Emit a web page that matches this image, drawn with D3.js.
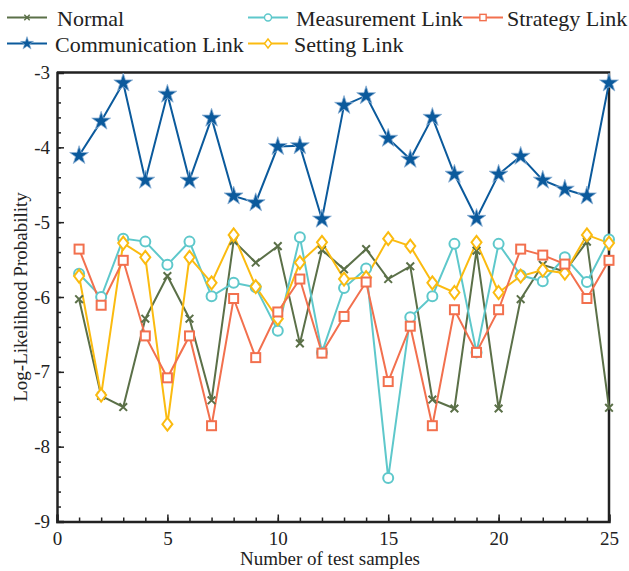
<!DOCTYPE html>
<html>
<head>
<meta charset="utf-8">
<script src="https://cdn.jsdelivr.net/npm/d3@7"></script>
<style>
  body { margin: 0; background: #fff; }
  svg text { font-family: "Liberation Serif", "Times New Roman", serif; fill: #222; }
</style>
</head>
<body>
<div id="chart"></div>
<script>
// test sample index 1..25
const samples = d3.range(1, 26);

const normal = [-6.03, -7.32, -7.47, -6.29, -5.72, -6.29, -7.38, -5.25, -5.54, -5.32,
  -6.62, -5.37, -5.63, -5.36, -5.76, -5.59, -7.37, -7.49, -5.38, -7.49,
  -6.03, -5.57, -5.66, -5.26, -7.48];
const communication = [-4.11, -3.65, -3.14, -4.44, -3.29, -4.44, -3.61, -4.65, -4.74, -3.99,
  -3.98, -4.96, -3.44, -3.31, -3.88, -4.16, -3.60, -4.36, -4.95, -4.36,
  -4.12, -4.44, -4.56, -4.65, -3.14];
const measurement = [-5.69, -6.00, -5.22, -5.26, -5.57, -5.26, -5.99, -5.81, -5.87, -6.45,
  -5.20, -6.74, -5.88, -5.62, -8.42, -6.27, -5.99, -5.29, -6.74, -5.29,
  -5.71, -5.79, -5.47, -5.80, -5.23];
const strategy = [-5.36, -6.11, -5.51, -6.52, -7.08, -6.52, -7.72, -6.02, -6.81, -6.20,
  -5.76, -6.75, -6.26, -5.80, -7.13, -6.39, -7.72, -6.17, -6.74, -6.17,
  -5.36, -5.44, -5.56, -6.02, -5.51];
const setting = [-5.72, -7.31, -5.28, -5.47, -7.70, -5.47, -5.81, -5.17, -5.86, -6.29,
  -5.54, -5.27, -5.76, -5.74, -5.22, -5.32, -5.81, -5.94, -5.27, -5.94,
  -5.72, -5.64, -5.68, -5.17, -5.28];

const xTicks = [0, 5, 10, 15, 20, 25];
const yTicks = [-9, -8, -7, -6, -5, -4, -3];

const series = [
  {name: "Normal", values: normal, color: "#5b7048", marker: "x"},
  {name: "Communication Link", values: communication, color: "#0b5a9c", marker: "star"},
  {name: "Measurement Link", values: measurement, color: "#5ec8cb", marker: "circle"},
  {name: "Setting Link", values: setting, color: "#fbbb10", marker: "diamond"},
  {name: "Strategy Link", values: strategy, color: "#f2704e", marker: "square"}
];

const width = 629, height = 571;
const margin = {top: 72.5, right: 20, bottom: 49.5, left: 57};

const svg = d3.select("#chart").append("svg")
    .attr("width", width)
    .attr("height", height);

const x = d3.scaleLinear().domain([0, 25]).range([margin.left, width - margin.right]);
const y = d3.scaleLinear().domain([-9, -3]).range([height - margin.bottom, margin.top]);

// frame: top and right borders
svg.append("path")
    .attr("d", `M${x(0)},${y(-3)}H${x(25)}V${y(-9)}`)
    .attr("fill", "none")
    .attr("stroke", "#222")
    .attr("stroke-width", 2.5);

// minor ticks (inside)
svg.append("g")
    .attr("transform", `translate(0,${y(-9)})`)
    .call(d3.axisBottom(x).tickValues(d3.range(0, 26)).tickSize(-4).tickFormat(""))
    .call(g => g.select(".domain").remove())
    .selectAll("line").attr("stroke", "#222").attr("stroke-width", 1.5);
svg.append("g")
    .attr("transform", `translate(${x(0)},0)`)
    .call(d3.axisLeft(y).tickValues(d3.range(0, 31).map(i => -9 + i * 0.2)).tickSize(-4).tickFormat(""))
    .call(g => g.select(".domain").remove())
    .selectAll("line").attr("stroke", "#222").attr("stroke-width", 1.5);

// major axes
const xAxis = svg.append("g")
    .attr("transform", `translate(0,${y(-9)})`)
    .call(d3.axisBottom(x).tickValues(xTicks).tickSize(-7).tickPadding(10));
const yAxis = svg.append("g")
    .attr("transform", `translate(${x(0)},0)`)
    .call(d3.axisLeft(y).tickValues(yTicks).tickSize(-7).tickPadding(7).tickFormat(d3.format("d")));

[xAxis, yAxis].forEach(g => {
  g.select(".domain").attr("stroke", "#222").attr("stroke-width", 2.5);
  g.selectAll(".tick line").attr("stroke", "#222").attr("stroke-width", 1.5);
  g.selectAll(".tick text").attr("font-size", 19).attr("fill", "#222");
});
// plain hyphen as minus, like the original
yAxis.selectAll(".tick text").text(d => String(d).replace("\u2212", "-"));

// axis titles
svg.append("text")
    .attr("x", x(12.5) - 3)
    .attr("y", height - 6)
    .attr("text-anchor", "middle")
    .attr("font-size", 19)
    .text("Number of test samples");

svg.append("text")
    .attr("transform", `translate(27,${y(-6)}) rotate(-90)`)
    .attr("text-anchor", "middle")
    .attr("font-size", 19)
    .text("Log-Likelihood Probability");

// markers
const star = d3.symbol().type(d3.symbolStar).size(110);
const cross = d3.symbol().type(d3.symbolX).size(40);

function drawMarker(g, s) {
  if (s.marker === "x") {
    g.append("path").attr("d", cross()).attr("fill", "none").attr("stroke", s.color).attr("stroke-width", 2);
  } else if (s.marker === "star") {
    g.append("path").attr("d", star()).attr("fill", s.color).attr("stroke", "#8fb3d6").attr("stroke-width", 0.8);
  } else if (s.marker === "circle") {
    g.append("circle").attr("r", 5).attr("fill", "#fff").attr("stroke", s.color).attr("stroke-width", 2);
  } else if (s.marker === "square") {
    g.append("rect").attr("x", -4.5).attr("y", -4.5).attr("width", 9).attr("height", 9)
        .attr("fill", "#fff").attr("stroke", s.color).attr("stroke-width", 2);
  } else if (s.marker === "diamond") {
    g.append("path").attr("d", "M0,-6.5L5,0L0,6.5L-5,0Z")
        .attr("fill", "#fff").attr("stroke", s.color).attr("stroke-width", 2);
  }
}

const line = d3.line()
    .x((d, i) => x(samples[i]))
    .y(d => y(d));

const plot = svg.append("g");
series.forEach(s => {
  plot.append("path")
      .datum(s.values)
      .attr("fill", "none")
      .attr("stroke", s.color)
      .attr("stroke-width", 2)
      .attr("d", line);
});
series.forEach(s => {
  plot.selectAll(null)
      .data(s.values)
      .enter()
      .append("g")
      .attr("transform", (d, i) => `translate(${x(samples[i])},${y(d)})`)
      .each(function() { drawMarker(d3.select(this), s); });
});

// legend, 3 columns
const legendItems = [
  {s: series[0], lx: 7, ly: 17.5, tx: 50},
  {s: series[2], lx: 248, ly: 17.5, tx: 48},
  {s: series[4], lx: 463, ly: 17.5, tx: 44},
  {s: series[1], lx: 7, ly: 43.5, tx: 48},
  {s: series[3], lx: 248, ly: 43.5, tx: 46}
];
const legend = svg.append("g");
legendItems.forEach(item => {
  const g = legend.append("g").attr("transform", `translate(${item.lx},${item.ly})`);
  g.append("line").attr("x1", 0).attr("x2", 40).attr("y1", 0).attr("y2", 0)
      .attr("stroke", item.s.color).attr("stroke-width", 2);
  const m = g.append("g").attr("transform", "translate(20,0) scale(0.7)");
  drawMarker(m, item.s);
  g.append("text")
      .attr("x", item.tx)
      .attr("y", 8)
      .attr("font-size", 22)
      .text(item.s.name);
});
</script>
</body>
</html>
